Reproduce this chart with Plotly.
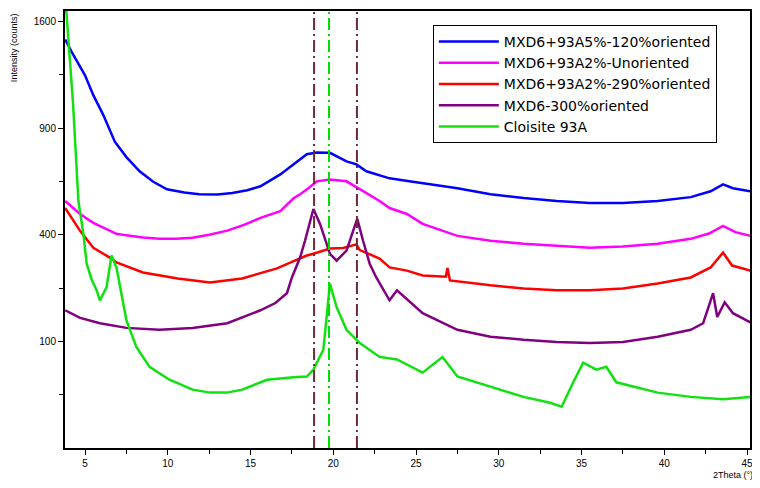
import numpy as np
import plotly.graph_objects as go

# 2-theta positions (deg) and intensities (counts)
th_blue = [3.8, 4.2, 5.0, 5.5, 6.1, 6.8, 7.5, 8.3, 9.1, 9.95, 11.0, 11.9, 13.0, 13.9, 14.8, 15.6,
           16.8, 17.6, 18.4, 19.0, 19.8, 20.8, 21.4, 22.0, 23.4, 24.6, 25.4, 27.5, 29.5, 31.5,
           33.5, 35.5, 37.5, 39.6, 41.6, 42.8, 43.55, 44.15, 45.2]
blue = [1469, 1380, 1223, 1096, 977, 826, 745, 674, 625, 589, 575, 567, 566, 572, 585, 603,
        659, 708, 760, 768, 767, 723, 708, 674, 640, 626, 617, 594, 567, 550,
        537, 528, 528, 537, 554, 580, 612, 594, 580]

th_magenta = [3.8, 4.7, 5.5, 6.9, 7.5, 8.5, 9.5, 10.5, 11.5, 12.5, 13.6, 14.6, 15.6, 16.8,
              17.6, 18.0, 18.5, 19.0, 19.8, 20.8, 21.6, 22.8, 23.4, 24.45, 25.4, 26.5, 27.5,
              29.5, 31.5, 33.5, 35.5, 37.5, 39.6, 41.6, 42.7, 43.55, 44.3, 45.2]
magenta = [537, 482, 446, 404, 398, 390, 385, 385, 389, 400, 416, 438, 466, 494,
           549, 567, 594, 626, 635, 626, 590, 537, 507, 482, 442, 418, 396,
           378, 367, 360, 353, 357, 367, 385, 405, 434, 410, 396]

th_red = [3.8, 4.7, 5.5, 6.5, 6.9, 7.5, 8.5, 10.6, 12.55, 14.5, 16.6, 17.5, 18.4, 18.8, 19.8,
          20.6, 21.4, 21.6, 22.8, 23.4, 24.45, 25.4, 26.8, 26.9, 27.05, 29.5, 31.5, 33.5,
          35.5, 37.5, 39.6, 41.6, 42.8, 43.55, 44.1, 45.2]
red = [507, 415, 353, 319, 303, 290, 271, 253, 241, 253, 284, 305, 326, 332, 350,
       352, 365, 345, 316, 287, 277, 262, 258, 285, 247, 233, 224, 219,
       219, 224, 238, 256, 287, 336, 293, 277]

th_purple = [3.8, 4.7, 5.9, 7.5, 9.5, 11.5, 13.6, 15.6, 16.5, 17.2, 17.5, 18.0, 18.3, 18.8,
             19.2, 19.8, 20.2, 20.8, 21.2, 21.45, 21.8, 22.2, 22.6, 23.4, 23.85, 25.4, 27.5,
             29.5, 31.5, 33.5, 35.5, 37.5, 39.6, 41.6, 42.35, 42.95, 43.2, 43.65, 44.15, 45.2]
purple = [167, 149, 137, 127, 123, 127, 137, 167, 185, 211, 256, 320, 380, 503,
          442, 332, 309, 343, 415, 462, 378, 299, 256, 192, 219, 160, 123,
          109, 103, 99, 97, 99, 109, 123, 137, 211, 151, 187, 160, 139]

th_green = [3.75, 3.97, 4.27, 4.6, 4.9, 5.1, 5.4, 5.7, 5.9, 6.3, 6.6, 6.9, 7.5, 8.1, 8.9,
            10.1, 11.5, 12.55, 13.6, 14.5, 16.0, 17.6, 18.4, 18.8, 19.4, 19.8, 20.2, 20.8,
            21.6, 22.8, 23.85, 25.4, 26.6, 27.5, 29.5, 31.5, 33.1, 33.8, 34.5, 35.1, 35.9,
            36.5, 37.1, 39.6, 41.6, 43.55, 45.2]
green = [1900, 1497, 1054, 537, 404, 299, 250, 219, 192, 227, 326, 287, 144, 90, 58,
         41, 30, 27, 27, 30, 41, 44, 45, 54, 85, 238, 175, 123,
         97, 73, 69, 50, 73, 45, 33, 23, 18, 15, 38, 64, 54,
         58, 38, 27, 23, 21, 23]

names = ["MXD6+93A5%-120%oriented", "MXD6+93A2%-Unoriented", "MXD6+93A2%-290%oriented",
         "MXD6-300%oriented", "Cloisite 93A"]
peak_lines = [18.84, 19.74, 21.43]

y_ticks = [100, 400, 900, 1600]
y_minor = [25, 225, 625, 1225]

series = [
    (th_blue, blue, "#0000ff"),
    (th_magenta, magenta, "#ff00ff"),
    (th_red, red, "#ff0000"),
    (th_purple, purple, "#800080"),
    (th_green, green, "#11e011"),
]

fig = go.Figure()
for (tx, ty, col), nm in zip(series, names):
    fig.add_trace(go.Scatter(
        x=tx, y=np.sqrt(ty),  # square-root intensity scale
        mode="lines", name=nm,
        line=dict(color=col, width=2.5),
    ))

for i, xv in enumerate(peak_lines):
    fig.add_shape(type="line", xref="x", yref="paper", x0=xv, x1=xv, y0=0, y1=1,
                  line=dict(color="#00dd00" if i == 1 else "#6e2a35", width=2,
                            dash="12px,4px,2px,4px"))

fig.update_xaxes(
    range=[3.79, 45.18], dtick=5, tick0=0,
    showline=True, linecolor="black", linewidth=2, mirror=True,
    ticks="outside", ticklen=5, tickcolor="black", showgrid=False, zeroline=False,
    minor=dict(dtick=2.5, tick0=0, ticklen=4, ticks="outside", tickcolor="black"),
    tickfont=dict(size=10, color="black"),
)
fig.update_yaxes(
    range=[0, 41], tickmode="array",
    tickvals=list(np.sqrt(y_ticks)), ticktext=[str(v) for v in y_ticks],
    showline=True, linecolor="black", linewidth=2, mirror=True,
    ticks="outside", ticklen=5, tickcolor="black", showgrid=False, zeroline=False,
    minor=dict(tickmode="array", tickvals=list(np.sqrt(y_minor)), ticklen=4,
               ticks="outside", tickcolor="black"),
    tickfont=dict(size=10, color="black"),
)

fig.add_annotation(text="Intensity (counts)", xref="paper", yref="paper",
                   x=-0.075, y=1.0, xanchor="center", yanchor="top", textangle=-90,
                   showarrow=False, font=dict(size=9, color="black"))
fig.add_annotation(text="2Theta (°)", xref="paper", yref="paper",
                   x=1.007, y=-0.045, xanchor="right", yanchor="top",
                   showarrow=False, font=dict(size=9, color="black"))

# page body adds an 8px margin, so the figure is made 8px smaller each way
fig.update_layout(
    width=752, height=480,
    margin=dict(l=57, r=10, t=1, b=40),
    paper_bgcolor="white", plot_bgcolor="white",
    font=dict(family="Liberation Sans, Arial, sans-serif", color="black"),
    legend=dict(x=0.537, y=0.968, xanchor="left", yanchor="top",
                bordercolor="black", borderwidth=1, bgcolor="white",
                font=dict(size=14, family="DejaVu Sans"), tracegroupgap=0, itemwidth=60),
)

fig.write_html("out.html")
